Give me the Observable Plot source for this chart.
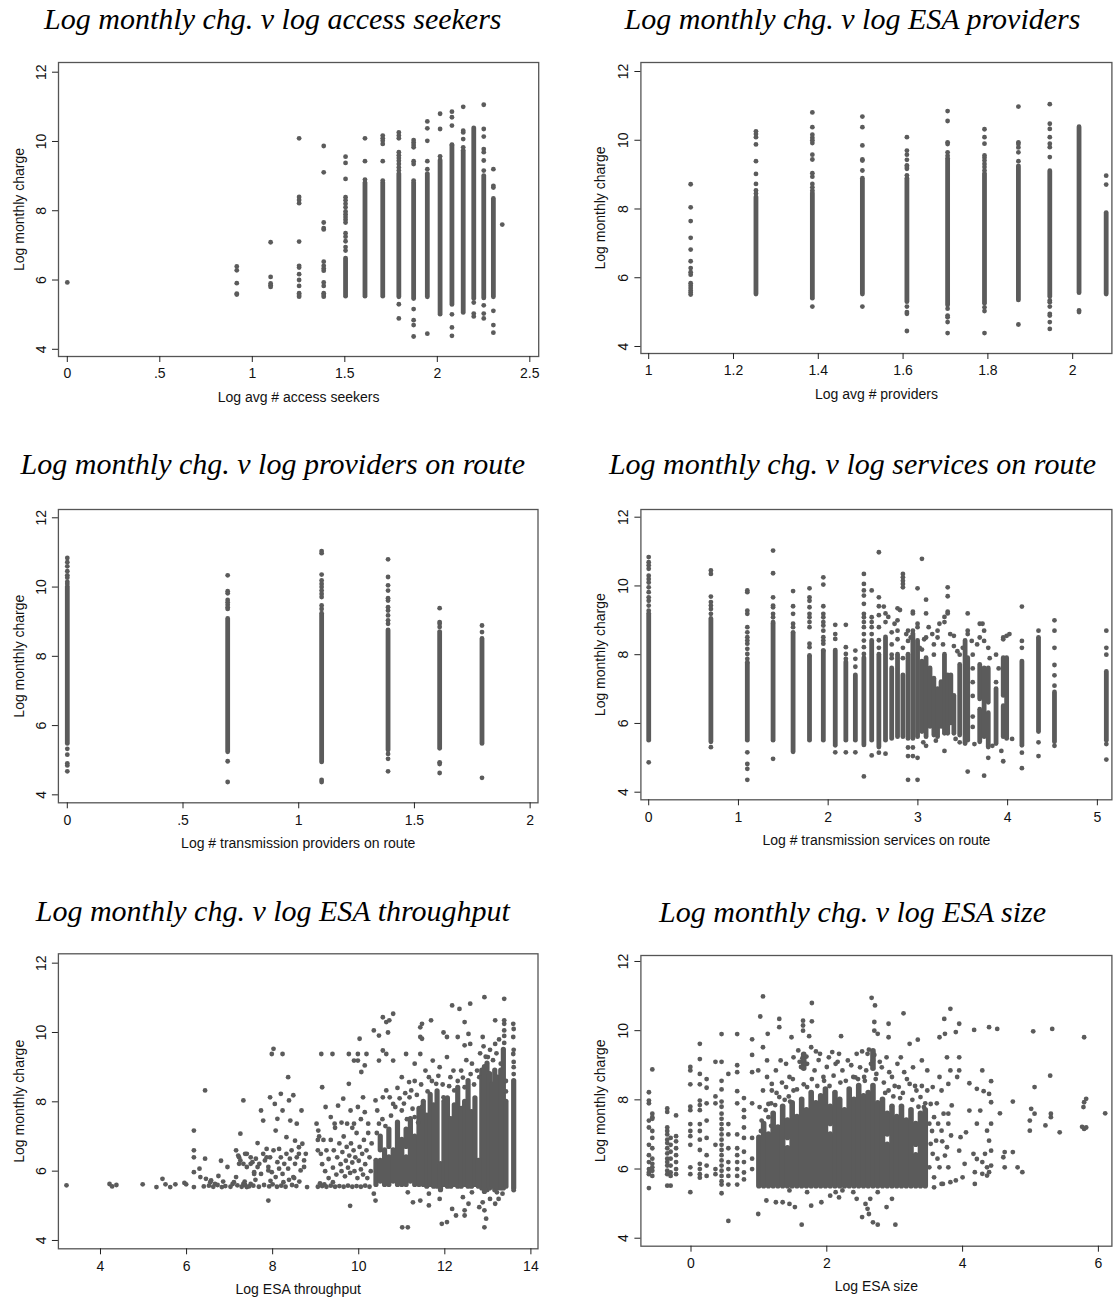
<!DOCTYPE html>
<html>
<head>
<meta charset="utf-8">
<script src="https://cdn.jsdelivr.net/npm/d3@7"></script>
<script src="https://cdn.jsdelivr.net/npm/@observablehq/plot@0.6"></script>
<style>
  html, body { margin: 0; padding: 0; background: #fff; }
  #page { position: relative; width: 1113px; height: 1299px; overflow: hidden; background: #fff; }
  #page svg { position: absolute; }
</style>
</head>
<body>
<div id="page"></div>
<script>
// ---------------------------------------------------------------------------
// Shared axis values
// ---------------------------------------------------------------------------
const yTicks = [4, 6, 8, 10, 12];
const yTickLabels = ["4", "6", "8", "10", "12"];
const yLabel = "Log monthly charge";

// ---------------------------------------------------------------------------
// 1. Log monthly charge vs log avg # access seekers
//    runs: [x, low, high] stretches where the points merge into a solid column
//    cols: [x, [y, ...]] individual points
// ---------------------------------------------------------------------------
const seekersTitle = "Log monthly chg. v log access seekers";
const seekersXLabel = "Log avg # access seekers";
const seekersXTicks = [0, 0.5, 1, 1.5, 2, 2.5];
const seekersXTickLabels = ["0", ".5", "1", "1.5", "2", "2.5"];
const seekersRuns = [
  [1.504, 5.52, 6.62], [1.609, 5.52, 8.80], [1.705, 5.52, 8.80], [1.792, 5.50, 9.06],
  [1.872, 5.45, 8.80], [1.946, 5.50, 9.06], [2.015, 5.00, 9.45], [2.079, 5.28, 9.88],
  [2.140, 5.05, 9.73], [2.197, 5.45, 10.38], [2.251, 5.47, 9.00], [2.303, 5.50, 8.34]
];
const seekersCols = [
  [0, [5.93]],
  [0.916, [6.39, 6.28, 5.91, 5.61, 5.58]],
  [1.099, [7.09, 6.09, 5.90, 5.85, 5.80]],
  [1.253, [10.09, 8.40, 8.31, 8.22, 7.11, 6.41, 6.36, 6.17, 6.00, 5.83, 5.62, 5.57, 5.52]],
  [1.386, [9.87, 9.11, 7.66, 7.50, 7.46, 6.53, 6.41, 6.33, 6.27, 5.93, 5.83, 5.62, 5.57, 5.52]],
  [1.504, [9.56, 9.38, 8.92, 8.39, 8.30, 8.20, 8.10, 7.98, 7.90, 7.82, 7.74, 7.66, 7.35, 7.25, 7.12, 6.95, 6.85]],
  [1.609, [10.09, 9.43, 8.90]],
  [1.705, [10.17, 10.09, 10.02, 9.93, 9.43, 8.87]],
  [1.792, [10.26, 10.17, 10.09, 9.69, 9.60, 9.52, 9.44, 9.35, 9.25, 9.16, 5.30, 4.89]],
  [1.872, [10.04, 9.97, 9.90, 9.83, 9.43, 9.35, 8.87, 5.16, 4.84, 4.70, 4.37]],
  [1.946, [10.58, 10.38, 10.02, 9.43, 9.20, 4.45]],
  [2.015, [10.80, 10.36, 9.57]],
  [2.079, [10.86, 10.70, 10.46, 9.91, 5.01, 4.63, 4.39]],
  [2.140, [11.00, 10.31, 10.26, 10.07, 9.83]],
  [2.197, [5.35, 5.03, 4.95]],
  [2.251, [11.06, 10.36, 10.14, 9.78, 9.69, 9.45, 9.16, 5.27, 5.03, 4.89]],
  [2.303, [9.20, 8.72, 8.67, 5.11, 4.70, 4.48]],
  [2.351, [7.60]]
];

// ---------------------------------------------------------------------------
// 2. Log monthly charge vs log avg # ESA providers
// ---------------------------------------------------------------------------
const providersTitle = "Log monthly chg. v log ESA providers";
const providersXLabel = "Log avg # providers";
const providersXTicks = [1, 1.2, 1.4, 1.6, 1.8, 2];
const providersXTickLabels = ["1", "1.2", "1.4", "1.6", "1.8", "2"];
const providersRuns = [
  [1.253, 5.51, 8.34], [1.386, 5.39, 8.46], [1.504, 5.51, 8.88], [1.609, 5.29, 8.88],
  [1.705, 5.19, 9.46], [1.792, 5.24, 9.02], [1.872, 5.34, 9.24], [1.946, 5.44, 9.10],
  [2.015, 5.55, 10.38], [2.079, 5.51, 7.88]
];
const providersCols = [
  [1.099, [8.72, 8.05, 7.65, 7.16, 6.82, 6.48, 6.28, 6.16, 6.09, 5.84, 5.77, 5.70, 5.63, 5.57, 5.51]],
  [1.253, [10.26, 10.18, 10.09, 9.88, 9.39, 9.02, 8.73, 8.54, 8.45]],
  [1.386, [10.81, 10.38, 10.16, 10.07, 10.00, 9.92, 9.58, 9.44, 9.04, 8.94, 8.73, 8.63, 8.54, 5.16]],
  [1.504, [10.69, 10.38, 9.85, 9.44, 9.41, 9.12, 5.16]],
  [1.609, [10.09, 9.70, 9.58, 9.43, 9.27, 9.22, 9.17, 8.98, 5.16, 5.00, 4.95, 4.45]],
  [1.705, [10.85, 10.56, 9.94, 9.89, 9.65, 9.55, 5.10, 4.90, 4.85, 4.71, 4.39]],
  [1.792, [10.32, 10.09, 9.90, 9.56, 9.49, 9.41, 9.31, 9.22, 9.12, 5.14, 5.03, 4.39]],
  [1.872, [10.98, 9.94, 9.89, 9.79, 9.65, 9.39, 4.64]],
  [1.946, [11.05, 10.48, 10.33, 10.09, 9.90, 9.80, 9.51, 5.34, 5.29, 5.16, 4.95, 4.90, 4.71, 4.51]],
  [2.015, [5.05, 5.00]],
  [2.079, [8.97, 8.71]]
];

// ---------------------------------------------------------------------------
// 3. Log monthly charge vs log # transmission providers on route
// ---------------------------------------------------------------------------
const routeProvTitle = "Log monthly chg. v log providers on route";
const routeProvXLabel = "Log # transmission providers on route";
const routeProvXTicks = [0, 0.5, 1, 1.5, 2];
const routeProvXTickLabels = ["0", ".5", "1", "1.5", "2"];
const routeProvRuns = [
  [0, 5.47, 10.00], [0.693, 5.23, 9.08], [1.099, 4.94, 9.23],
  [1.386, 5.28, 8.75], [1.609, 5.33, 8.70], [1.792, 5.47, 8.50]
];
const routeProvCols = [
  [0, [10.84, 10.72, 10.60, 10.46, 10.34, 10.27, 10.15, 10.09, 5.33, 5.16, 4.91, 4.85, 4.68]],
  [0.693, [10.34, 9.88, 9.82, 9.63, 9.56, 9.49, 9.42, 9.37, 4.97, 4.37]],
  [1.099, [11.04, 10.98, 10.36, 10.19, 10.09, 10.00, 9.90, 9.80, 9.71, 9.47, 9.37, 4.43, 4.37]],
  [1.386, [10.80, 10.29, 10.05, 9.90, 9.68, 9.61, 9.42, 9.32, 9.18, 9.04, 8.94, 5.18, 5.04, 4.68]],
  [1.609, [9.39, 8.99, 8.94, 8.85, 4.94, 4.89, 4.63]],
  [1.792, [8.89, 8.70, 4.49]]
];

// ---------------------------------------------------------------------------
// 4. Log monthly charge vs log # transmission services on route
// ---------------------------------------------------------------------------
const servicesTitle = "Log monthly chg. v log services on route";
const servicesXLabel = "Log # transmission services on route";
const servicesXTicks = [0, 1, 2, 3, 4, 5];
const servicesXTickLabels = ["0", "1", "2", "3", "4", "5"];
const servicesRuns = [
  [0, 5.50, 9.19], [0.693, 5.45, 9.04], [1.099, 5.50, 7.73], [1.386, 5.50, 8.90],
  [1.609, 5.16, 8.60], [1.792, 5.50, 7.93], [1.946, 5.50, 8.10], [2.079, 5.35, 8.12],
  [2.197, 5.50, 7.78], [2.303, 5.50, 7.40], [2.398, 5.36, 7.90], [2.485, 5.50, 8.40],
  [2.565, 5.30, 8.00], [2.639, 5.50, 8.50], [2.708, 5.55, 7.60], [2.773, 5.60, 8.00],
  [2.833, 5.60, 7.40], [2.890, 5.55, 8.00], [2.944, 5.55, 8.60], [2.996, 5.60, 8.40],
  [3.045, 5.75, 7.80], [3.091, 5.60, 7.90], [3.135, 5.90, 7.60], [3.178, 5.65, 7.30],
  [3.219, 5.60, 7.00], [3.258, 5.90, 7.20], [3.296, 5.70, 8.00], [3.332, 5.70, 7.40],
  [3.367, 6.00, 7.40], [3.401, 5.70, 6.80], [3.466, 5.65, 7.70], [3.526, 5.40, 8.40],
  [3.555, 5.50, 7.90], [3.689, 5.45, 6.40], [3.689, 6.70, 7.70], [3.738, 5.60, 7.60],
  [3.784, 5.30, 6.30], [3.784, 6.60, 7.60], [3.871, 5.40, 7.00], [3.951, 5.60, 6.50],
  [3.951, 6.80, 7.90], [3.989, 5.55, 7.90], [4.159, 5.35, 7.80], [4.344, 5.75, 8.45],
  [4.522, 5.45, 6.90], [5.100, 5.50, 7.50]
];
const servicesCols = [
  [0, [10.84, 10.69, 10.60, 10.50, 10.30, 10.20, 10.10, 9.96, 9.82, 9.67, 9.57, 9.43, 9.28, 4.87]],
  [0.693, [10.45, 10.35, 9.69, 9.53, 9.43, 9.33, 9.19, 5.31]],
  [1.099, [9.87, 9.82, 9.28, 9.19, 8.80, 8.65, 8.51, 8.41, 8.32, 8.17, 8.02, 7.88, 7.78, 5.16, 4.82, 4.68, 4.36]],
  [1.386, [11.03, 10.37, 9.67, 9.43, 9.38, 9.19, 9.09, 8.95, 4.97]],
  [1.609, [9.85, 9.41, 9.19, 8.90, 8.80, 8.65]],
  [1.792, [9.93, 9.67, 9.57, 9.38, 9.19, 9.09, 8.95, 8.80, 8.32, 8.22, 7.98]],
  [1.946, [10.25, 10.04, 9.41, 9.19, 9.09, 8.95, 8.85, 8.70, 8.51, 8.41, 8.32, 8.12]],
  [2.079, [8.87, 8.60, 8.46, 5.16]],
  [2.197, [8.87, 8.22, 8.02, 7.88, 5.16]],
  [2.303, [8.12, 7.88, 7.65, 5.16]],
  [2.398, [10.35, 10.06, 9.87, 9.72, 9.48, 9.19, 9.09, 8.95, 8.80, 8.60, 8.41, 8.22, 8.02, 4.46]],
  [2.485, [9.87, 9.09, 8.95, 8.80, 8.60, 5.07]],
  [2.565, [10.98, 9.67, 9.41, 9.15, 8.80, 8.42, 8.20, 5.15]],
  [2.639, [9.20, 8.95, 5.12]],
  [2.708, [8.65, 8.30, 8.00, 7.90]],
  [2.773, [9.35, 9.00, 8.70, 8.45]],
  [2.833, [10.35, 10.25, 10.15, 10.06, 9.96, 8.20, 7.90]],
  [2.890, [8.70, 8.40, 5.30, 5.05, 4.36]],
  [2.944, [9.25, 9.20, 8.70, 5.30, 5.05]],
  [2.996, [9.93, 8.90, 8.80, 5.00, 4.36]],
  [3.045, [10.79, 8.15]],
  [3.091, [9.60, 9.20, 8.50, 5.35]],
  [3.178, [8.30, 8.00]],
  [3.219, [8.70, 8.50]],
  [3.296, [9.10, 8.95, 5.20]],
  [3.332, [9.96, 9.70, 9.25, 9.20]],
  [3.401, [8.55, 8.25]],
  [3.466, [8.00, 5.45]],
  [3.555, [9.20, 8.70, 8.60, 4.60]],
  [3.611, [8.00, 7.60, 7.20, 6.80, 6.20, 5.90]],
  [3.689, [8.90, 8.50]],
  [3.738, [8.70, 8.40, 4.48]],
  [3.784, [8.20, 5.00]],
  [3.871, [8.00, 7.20]],
  [3.951, [8.50, 8.45, 4.90]],
  [3.989, [8.55]],
  [4.159, [9.40, 8.40, 8.20, 5.15, 4.70]],
  [4.344, [8.70, 8.50, 5.45, 5.05]],
  [4.522, [9.00, 8.70, 8.20, 7.70, 7.40, 7.10, 5.35]],
  [5.100, [8.70, 8.20, 8.00, 5.40, 4.95]]
];
const servicesDots = [
  [2.62, 9.40], [2.67, 9.10], [2.74, 8.90], [2.80, 9.30], [2.87, 8.60], [2.92, 8.50],
  [3.02, 8.20], [3.07, 8.45], [3.12, 8.80], [3.16, 8.60], [3.24, 8.90], [3.28, 8.30],
  [3.36, 8.60], [3.44, 8.10], [3.50, 8.20], [3.60, 8.40], [3.66, 8.30], [3.72, 8.90],
  [3.80, 7.90], [3.90, 7.60], [4.02, 8.60], [3.06, 5.45], [3.20, 5.50], [3.42, 5.55],
  [3.63, 5.40], [3.83, 5.35], [3.93, 5.20], [4.05, 5.55]
];

// ---------------------------------------------------------------------------
// 5. Log monthly charge vs log ESA throughput
// ---------------------------------------------------------------------------
const throughputTitle = "Log monthly chg. v log ESA throughput";
const throughputXLabel = "Log ESA throughput";
const throughputXTicks = [4, 6, 8, 10, 12, 14];
const throughputXTickLabels = ["4", "6", "8", "10", "12", "14"];
const throughputRuns = [
  [10.40, 5.60, 6.30], [10.50, 5.70, 6.30], [10.50, 6.60, 7.00], [10.60, 5.60, 6.60],
  [10.70, 5.60, 6.40], [10.70, 6.70, 7.20], [10.80, 5.70, 6.60], [10.90, 5.60, 7.40],
  [11.00, 5.60, 6.90], [11.10, 5.60, 6.40], [11.10, 6.70, 7.20], [11.20, 5.70, 7.50],
  [11.30, 5.60, 7.00], [11.40, 5.60, 7.80], [11.50, 5.60, 8.00], [11.58, 5.55, 7.60],
  [11.66, 5.60, 8.20], [11.74, 5.55, 7.90], [11.82, 5.55, 8.30], [11.90, 5.45, 6.20],
  [11.98, 5.60, 8.00], [12.06, 5.55, 8.10], [12.14, 5.55, 7.50], [12.22, 5.60, 7.90],
  [12.30, 5.55, 8.40], [12.38, 5.55, 7.80], [12.46, 5.60, 8.00], [12.54, 5.55, 8.60],
  [12.62, 5.55, 7.70], [12.70, 5.60, 8.10], [12.78, 5.55, 6.30], [12.86, 5.50, 8.90],
  [12.92, 5.40, 9.00], [12.98, 5.45, 9.10], [13.04, 5.50, 8.80], [13.10, 5.55, 8.50],
  [13.16, 5.45, 8.90], [13.22, 5.50, 8.70], [13.30, 5.50, 8.90], [13.36, 5.50, 9.50],
  [13.42, 5.55, 8.00], [13.60, 5.50, 8.60]
];
const throughputDots = [
  [3.21, 5.59], [4.21, 5.63], [4.27, 5.56], [4.37, 5.60], [4.98, 5.62], [5.30, 5.54],
  [5.44, 5.78], [5.51, 5.62], [5.62, 5.54], [5.74, 5.62], [5.95, 5.66], [5.99, 5.62],
  [6.17, 7.17], [6.17, 6.60], [6.17, 6.40], [6.17, 5.97], [6.17, 5.54], [6.43, 8.33],
  [6.43, 6.36], [6.30, 6.07], [6.32, 5.83], [6.45, 5.78], [6.57, 5.73], [6.66, 5.63],
  [6.74, 5.86], [6.82, 5.54], [6.80, 6.30], [6.95, 6.12], [7.07, 5.63], [7.15, 5.83],
  [7.25, 7.08], [7.32, 8.04], [7.40, 6.50], [7.22, 6.40], [7.22, 6.21], [7.32, 5.63],
  [7.40, 5.54], [7.49, 5.63], [7.49, 6.21], [7.57, 5.92], [7.65, 6.81], [7.73, 7.75],
  [7.78, 7.46], [7.86, 6.40], [7.90, 6.02], [7.90, 5.15], [7.94, 8.13], [7.98, 9.38],
  [8.02, 9.53], [8.23, 9.38], [8.05, 7.94], [8.07, 7.17], [8.11, 7.51], [8.15, 6.64],
  [8.19, 8.23], [8.23, 7.75], [8.32, 6.98], [8.36, 8.71], [8.38, 8.04], [8.41, 7.46],
  [8.48, 8.19], [8.52, 6.88], [8.56, 7.37], [8.61, 6.50], [8.67, 7.75], [8.73, 6.12],
  [8.80, 5.54],
  [7.15, 6.60], [7.20, 6.45], [7.25, 6.31], [7.32, 6.21], [7.36, 6.50], [7.40, 6.12],
  [7.49, 6.40], [7.53, 6.26], [7.57, 5.97], [7.61, 6.36], [7.65, 6.12], [7.69, 6.21],
  [7.73, 5.92], [7.78, 6.50], [7.82, 6.31], [7.86, 6.64], [7.90, 6.12], [7.94, 6.40],
  [7.98, 5.97], [8.02, 6.60], [8.07, 5.83], [8.11, 6.26], [8.15, 6.07], [8.19, 6.40],
  [8.23, 5.92], [8.27, 6.21], [8.32, 6.50], [8.36, 6.07], [8.40, 6.36], [8.44, 6.60],
  [8.48, 5.83], [8.52, 6.21], [8.56, 6.40], [8.61, 6.69], [8.65, 6.02], [8.69, 6.79],
  [8.73, 6.31], [8.77, 6.50],
  [6.40, 5.56], [6.52, 5.58], [6.62, 5.55], [6.72, 5.60], [6.90, 5.57], [7.02, 5.55],
  [7.18, 5.59], [7.28, 5.55], [7.36, 5.60], [7.45, 5.56], [7.55, 5.58], [7.68, 5.55],
  [7.80, 5.60], [7.92, 5.56], [8.00, 5.62], [8.10, 5.55], [8.20, 5.58], [8.30, 5.55],
  [8.45, 5.60], [8.55, 5.57], [8.62, 5.70], [8.50, 5.80], [8.38, 5.75], [8.25, 5.68],
  [7.95, 5.72], [7.60, 5.75], [7.35, 5.70], [7.10, 5.68], [6.85, 5.70], [6.55, 5.68],
  [9.13, 9.38], [9.39, 9.38], [9.77, 9.38], [9.89, 9.19], [9.98, 9.38], [9.98, 9.19],
  [10.18, 9.38], [10.02, 9.82], [10.06, 8.86], [10.14, 9.05], [9.15, 8.42], [9.77, 8.52],
  [9.64, 8.09], [9.52, 7.89], [9.23, 7.85], [9.35, 7.56], [9.44, 7.37], [9.02, 7.37],
  [9.06, 7.17], [10.10, 8.13], [9.98, 7.85], [9.89, 7.37], [9.73, 7.37], [9.81, 7.75],
  [10.14, 7.70], [10.22, 7.37],
  [9.05, 6.60], [9.05, 6.90], [9.08, 7.00], [9.12, 6.50], [9.15, 6.20], [9.18, 6.90],
  [9.22, 6.00], [9.25, 6.60], [9.30, 5.80], [9.30, 6.35], [9.35, 6.90], [9.40, 6.10],
  [9.42, 6.60], [9.48, 5.90], [9.50, 6.40], [9.55, 6.80], [9.58, 6.20], [9.60, 6.00],
  [9.62, 6.55], [9.65, 7.00], [9.68, 5.85], [9.70, 6.30], [9.72, 6.70], [9.75, 6.10],
  [9.78, 6.45], [9.80, 5.95], [9.82, 6.80], [9.85, 6.25], [9.88, 6.60], [9.90, 6.00],
  [9.92, 6.40], [9.95, 7.10], [9.97, 5.80], [10.00, 6.30], [10.02, 6.70], [10.05, 6.05],
  [10.08, 6.50], [10.10, 5.90], [10.12, 6.90], [10.15, 6.20], [10.18, 6.60], [10.20, 5.80],
  [10.22, 7.10], [10.25, 6.40], [10.28, 6.00], [10.30, 6.80], [9.45, 7.25], [9.60, 7.40],
  [9.85, 7.25], [10.05, 7.50], [9.80, 5.00],
  [9.05, 5.55], [9.15, 5.57], [9.25, 5.55], [9.35, 5.58], [9.45, 5.55], [9.55, 5.57],
  [9.65, 5.55], [9.75, 5.58], [9.85, 5.55], [9.95, 5.57], [10.05, 5.55], [10.15, 5.58],
  [10.25, 5.55], [9.10, 5.65], [9.20, 5.62], [9.40, 5.68],
  [10.35, 10.06], [10.47, 9.91], [10.56, 10.44], [10.64, 10.30], [10.71, 10.35], [10.80, 10.54],
  [10.68, 10.00], [10.47, 9.19], [10.56, 9.48], [10.64, 9.38], [10.80, 9.19], [11.10, 9.38],
  [11.43, 10.15], [11.47, 10.25], [11.43, 9.87], [11.47, 9.82], [11.68, 10.35], [11.43, 9.38],
  [11.97, 10.00], [12.17, 10.78], [12.34, 10.68], [12.46, 10.30], [12.59, 10.83], [12.92, 11.02],
  [13.38, 10.97], [12.05, 9.87], [12.30, 9.87], [12.55, 9.96], [12.46, 9.63], [12.59, 9.67],
  [12.88, 9.87], [13.17, 10.35], [13.17, 9.67], [13.38, 10.25], [13.38, 10.06], [13.59, 10.25],
  [13.59, 9.87], [13.59, 9.38], [12.05, 9.29], [11.72, 9.19], [11.30, 9.10], [11.88, 9.00],
  [11.00, 8.71], [11.17, 8.57], [11.22, 8.33], [11.18, 8.13], [10.72, 8.13], [10.56, 8.13],
  [10.39, 8.04], [10.43, 7.75], [10.47, 7.37], [10.64, 8.33], [10.80, 7.94], [11.00, 7.75],
  [11.63, 8.71], [11.80, 8.52], [12.13, 8.71], [12.38, 8.90], [12.63, 9.10], [12.80, 8.71],
  [13.00, 9.29], [12.22, 8.33], [12.46, 8.42], [11.97, 8.13], [11.47, 7.85], [11.30, 7.56],
  [10.42, 7.10], [10.55, 7.50], [10.62, 7.30], [10.75, 7.60], [10.85, 7.85], [10.95, 8.10],
  [11.05, 7.95], [11.12, 7.50], [11.25, 7.80], [11.35, 8.20], [11.38, 7.40], [10.90, 8.40],
  [11.08, 8.25], [11.30, 8.60], [11.45, 8.50], [11.55, 8.90], [11.60, 8.30], [11.70, 8.60],
  [11.85, 8.75], [11.95, 8.50], [12.10, 8.45], [12.20, 8.90], [12.30, 8.60], [12.42, 8.70],
  [12.50, 9.20], [12.60, 8.80], [12.68, 8.50], [12.75, 8.90], [12.82, 9.40], [12.90, 9.60],
  [12.95, 9.30], [13.05, 9.50], [13.12, 9.20], [13.20, 9.40], [13.26, 9.80], [13.30, 9.10],
  [10.35, 5.35], [10.39, 5.15], [11.01, 4.38], [11.14, 4.38], [11.14, 5.39], [11.26, 5.10],
  [11.43, 5.15], [11.63, 5.01], [11.63, 5.35], [11.88, 5.20], [11.93, 4.48], [12.05, 4.53],
  [12.17, 4.91], [12.26, 4.72], [12.46, 4.72], [12.46, 4.87], [12.42, 5.25], [12.55, 5.06],
  [12.63, 5.39], [12.80, 4.96], [12.88, 5.10], [12.92, 4.87], [12.92, 4.38], [12.96, 4.63],
  [13.05, 5.20], [13.17, 5.06], [13.25, 5.20], [13.34, 5.35], [13.21, 5.39],
  [13.60, 8.80], [13.60, 9.00], [13.60, 9.15], [13.60, 9.50], [13.60, 10.10], [13.60, 5.45],
  [13.38, 9.70], [13.38, 9.90], [13.38, 10.35], [13.42, 8.30], [13.42, 8.60]
];

// ---------------------------------------------------------------------------
// 6. Log monthly charge vs log ESA size
// ---------------------------------------------------------------------------
const sizeTitle = "Log monthly chg. v log ESA size";
const sizeXLabel = "Log ESA size";
const sizeXTicks = [0, 2, 4, 6];
const sizeXTickLabels = ["0", "2", "4", "6"];
const sizeRuns = [
  [1.00, 5.50, 6.90], [1.07, 5.50, 7.30], [1.14, 5.50, 7.00], [1.21, 5.50, 7.60],
  [1.28, 5.50, 7.20], [1.35, 5.50, 7.80], [1.42, 5.50, 6.60], [1.42, 6.90, 7.40],
  [1.49, 5.50, 7.90], [1.56, 5.50, 7.50], [1.63, 5.50, 8.00], [1.66, 8.90, 9.30],
  [1.70, 5.50, 7.70], [1.77, 5.50, 8.20], [1.84, 5.50, 7.90], [1.91, 5.50, 8.10],
  [1.98, 5.50, 8.30], [2.05, 5.50, 7.00], [2.05, 7.30, 7.80], [2.12, 5.50, 8.20],
  [2.19, 5.50, 8.00], [2.26, 5.50, 7.70], [2.33, 5.50, 8.30], [2.40, 5.50, 8.00],
  [2.47, 5.50, 8.40], [2.54, 5.50, 8.10], [2.61, 5.50, 8.20], [2.68, 5.50, 8.40],
  [2.68, 8.90, 9.40], [2.75, 5.50, 7.90], [2.82, 5.50, 8.00], [2.89, 5.50, 6.70],
  [2.89, 7.00, 7.60], [2.96, 5.50, 7.80], [3.03, 5.50, 7.50], [3.10, 5.50, 7.80],
  [3.17, 5.50, 7.40], [3.24, 5.50, 7.70], [3.31, 5.50, 6.40], [3.31, 6.70, 7.30],
  [3.38, 5.50, 7.60], [3.45, 5.50, 7.70]
];
const sizeCols = [
  [-0.62, [8.22, 7.98, 7.90, 7.40, 7.20, 6.70, 6.40, 6.20, 6.00, 5.90, 5.85, 5.45]],
  [-0.57, [8.88, 7.60, 7.50, 7.45, 7.10, 6.90, 6.60, 6.30, 6.15, 6.05, 5.95, 5.80]],
  [-0.35, [7.75, 7.65, 7.20, 7.10, 7.00, 6.85, 6.75, 6.60, 6.45, 6.30, 6.20, 6.10, 5.95, 5.85, 5.52]],
  [-0.30, [6.90, 6.70, 6.50, 6.30, 6.10, 5.90, 5.80, 5.52]],
  [-0.22, [7.55, 6.95, 6.80, 6.60, 6.40, 6.20, 6.00, 5.85]],
  [-0.01, [8.95, 8.85, 8.45, 7.80, 7.70, 7.30, 7.10, 6.95, 6.70, 6.05, 5.85, 5.33]],
  [0.13, [9.62, 9.18, 8.75, 8.45, 7.98, 7.85, 7.70, 7.30, 7.10, 6.85, 6.55, 6.15, 6.00, 5.85, 5.75]],
  [0.23, [8.60, 8.35, 7.90, 7.40, 6.90, 6.40, 6.10, 5.80]],
  [0.36, [9.10, 8.10, 7.90, 6.70, 6.00, 5.85]],
  [0.45, [9.90, 9.10, 8.55, 8.30, 7.95, 7.80, 7.60, 7.45, 7.30, 7.15, 7.00, 6.85, 6.70, 6.55, 6.40, 6.25, 6.10, 5.95, 5.80, 5.65, 5.55, 5.30]],
  [0.55, [8.75, 7.30, 7.00, 6.60, 6.20, 6.00, 5.80, 5.55, 4.50]],
  [0.68, [9.90, 9.00, 8.80, 8.25, 7.90, 7.00, 6.60, 6.40, 6.20, 6.00, 5.80, 5.55]],
  [0.78, [8.05, 7.70, 7.50, 7.20, 6.90, 6.50, 6.20, 5.90, 5.70]],
  [0.90, [9.75, 9.30, 8.80, 7.90, 6.90, 6.30, 6.00]]
];
const sizeDots = [
  [1.06, 10.99], [1.02, 10.41], [1.30, 10.34], [1.30, 10.10], [1.13, 9.91], [1.48, 9.81],
  [1.65, 10.29], [1.65, 10.15], [1.65, 10.00], [1.78, 10.80], [1.78, 10.27], [1.74, 9.84],
  [2.21, 9.84], [2.66, 10.95], [2.71, 10.73], [2.70, 10.25], [2.70, 10.00], [2.75, 9.91],
  [2.91, 10.20], [2.91, 9.81], [3.13, 10.50], [3.34, 9.74], [3.22, 9.62], [3.82, 10.63],
  [3.73, 10.34], [3.74, 9.91], [3.95, 10.20], [3.90, 9.96], [3.66, 9.81], [4.17, 10.02],
  [4.39, 10.10], [4.51, 10.05], [5.04, 9.98], [5.32, 10.05], [5.79, 9.81],
  [5.06, 8.37], [5.29, 8.70], [4.74, 7.95], [5.01, 7.74], [5.06, 7.60], [4.99, 7.40],
  [4.99, 7.11], [5.22, 7.26], [5.30, 7.50], [5.30, 7.60], [5.43, 7.06], [5.78, 7.79],
  [5.79, 7.93], [5.82, 8.03], [5.79, 7.16], [5.82, 7.20], [5.76, 7.22], [6.10, 7.61],
  [4.62, 6.49], [4.60, 6.34], [4.62, 6.05], [4.74, 6.49], [4.81, 6.05], [4.88, 5.91],
  [4.55, 7.61],
  [4.10, 8.48], [4.21, 8.32], [4.29, 8.85], [4.31, 8.25], [4.39, 8.17], [4.42, 8.54],
  [4.42, 7.93], [4.10, 7.69], [4.26, 7.69], [4.21, 7.31], [4.36, 7.11], [4.42, 7.31],
  [4.39, 6.82], [4.05, 7.06], [3.97, 6.92], [4.16, 6.44], [4.21, 6.29], [4.29, 6.20],
  [4.33, 6.44], [4.36, 6.05], [4.39, 5.91], [4.42, 6.53], [4.18, 5.91], [4.18, 5.57],
  [4.29, 5.86], [4.36, 5.81], [4.42, 6.10], [4.03, 6.15], [3.95, 6.53], [4.00, 5.76],
  [3.90, 5.67], [3.82, 5.62], [3.79, 6.05], [3.71, 5.57], [3.74, 6.39], [3.77, 6.63],
  [3.69, 7.11], [3.79, 7.31], [3.83, 6.97], [3.79, 7.60], [3.84, 7.84], [3.69, 8.27],
  [3.79, 8.46], [3.95, 8.85], [3.92, 8.66], [3.95, 9.23], [3.77, 9.23], [3.82, 8.85],
  [3.66, 8.66], [3.56, 8.37], [3.48, 8.27], [3.40, 9.14], [3.48, 8.85], [3.53, 7.88],
  [3.58, 7.50], [3.64, 7.31], [3.61, 6.82], [3.56, 6.44], [3.66, 6.05], [3.58, 5.76],
  [3.51, 6.05], [3.53, 6.73], [3.51, 7.31], [3.69, 5.57], [3.58, 5.47], [3.62, 7.90],
  [3.55, 7.10], [3.63, 6.30], [3.70, 6.80], [3.72, 7.60],
  [1.06, 9.52], [0.99, 8.85], [1.12, 9.14], [1.12, 8.66], [1.19, 8.46], [1.19, 8.27],
  [1.25, 8.85], [1.32, 9.14], [1.40, 9.04], [1.45, 8.66], [1.51, 9.23], [1.58, 9.43],
  [1.66, 9.14], [1.71, 9.04], [1.77, 9.52], [1.82, 8.85], [1.90, 9.33], [1.95, 8.66],
  [2.03, 9.23], [2.08, 9.38], [2.13, 9.04], [2.18, 9.33], [2.23, 8.85], [2.31, 9.14],
  [2.39, 8.66], [2.44, 9.33], [2.49, 8.94], [2.55, 8.66], [2.60, 9.33], [2.65, 9.04],
  [2.68, 9.14], [2.73, 8.75], [2.81, 8.94], [2.88, 9.23], [2.96, 8.66], [3.04, 9.04],
  [3.09, 9.23], [3.14, 8.80], [3.22, 8.46], [3.27, 8.94], [3.32, 8.27], [3.06, 8.37],
  [2.91, 8.27], [1.71, 8.37], [1.51, 8.27], [1.40, 8.37], [1.30, 8.08], [1.14, 7.88],
  [1.06, 8.27], [1.01, 7.79], [1.04, 7.40], [1.14, 7.50], [3.38, 8.08], [3.43, 7.79],
  [1.60, 9.10], [1.64, 9.20], [1.68, 9.05], [1.62, 8.95], [1.70, 9.25], [1.84, 9.40],
  [1.88, 9.15], [2.00, 8.95], [2.10, 8.70], [2.16, 9.10], [2.28, 8.55], [2.36, 9.00],
  [2.46, 8.60], [2.52, 9.40], [2.58, 8.85], [2.62, 9.45], [2.70, 9.30], [2.72, 8.60],
  [2.78, 9.10], [2.84, 8.50], [2.92, 8.80], [3.00, 8.40], [3.12, 8.20], [3.18, 8.60],
  [3.26, 8.00], [3.30, 8.40], [1.26, 8.20], [1.34, 8.50], [1.44, 8.10], [1.50, 8.60],
  [1.56, 8.30], [1.66, 8.45], [1.78, 8.60], [1.86, 8.40], [1.96, 8.55], [2.04, 8.40],
  [2.20, 8.50], [2.42, 8.65], [2.56, 8.55], [2.86, 8.20], [2.98, 8.10], [3.08, 8.05],
  [1.10, 7.70], [1.18, 7.90], [1.24, 7.85], [1.38, 8.00], [1.46, 7.95], [1.18, 7.25],
  [1.03, 7.10], [3.45, 7.90], [3.40, 8.40], [3.35, 7.80],
  [0.99, 4.70], [1.11, 5.09], [1.25, 5.04], [1.35, 5.04], [1.45, 4.99], [1.53, 4.90],
  [1.63, 4.39], [1.77, 4.94], [1.92, 5.04], [2.05, 5.23], [2.18, 5.18], [2.23, 5.38],
  [2.39, 5.33], [2.44, 5.14], [2.52, 4.61], [2.57, 4.99], [2.60, 4.85], [2.62, 4.70],
  [2.64, 5.14], [2.68, 4.46], [2.75, 4.39], [2.75, 5.33], [2.88, 4.90], [2.96, 5.14],
  [3.01, 4.39], [1.45, 5.38], [1.71, 5.33], [2.13, 5.33]
];

// ---------------------------------------------------------------------------
// Drawing
// ---------------------------------------------------------------------------
const DOT = "#5b5b5b";
const SANS = "'Liberation Sans', Arial, Helvetica, sans-serif";
const SERIF = "'Liberation Serif', 'Times New Roman', serif";
const page = document.getElementById("page");

const expandCols = (cols) => cols.flatMap(([x, ys]) => ys.map((y) => [x, y]));

function panel(cfg) {
  const [fl, ft, fr, fb] = cfg.frame; // frame edges in page pixels
  const svg = Plot.plot({
    width: cfg.width,
    height: cfg.height,
    marginLeft: fl - cfg.left,
    marginTop: ft - cfg.top,
    marginRight: cfg.left + cfg.width - fr,
    marginBottom: cfg.top + cfg.height - fb,
    x: {domain: cfg.xDomain},
    y: {domain: cfg.yDomain},
    style: {fontFamily: SANS, fontSize: "14px", color: "#222", background: "transparent", overflow: "visible"},
    marks: [
      Plot.ruleX(cfg.runs, {x: (d) => d[0], y1: (d) => d[1], y2: (d) => d[2], stroke: DOT, strokeWidth: cfg.runWidth, strokeLinecap: "round"}),
      Plot.dot(cfg.dots, {x: (d) => d[0], y: (d) => d[1], r: 2.4, fill: DOT, stroke: "none"}),
      Plot.frame({stroke: "#555", strokeWidth: 1.3}),
      Plot.axisX({ticks: cfg.xTicks, tickFormat: (d, i) => cfg.xTickLabels[i], tickSize: 6, tickPadding: 6, label: null, fill: "#111"}),
      Plot.axisY({ticks: yTicks, tickFormat: (d, i) => yTickLabels[i], tickRotate: -90, tickSize: 6, tickPadding: cfg.yTickPad, label: null, fill: "#111"}),
      Plot.text([cfg.xLabel], {text: (d) => d, frameAnchor: "bottom", dy: 45, lineAnchor: "bottom", fill: "#111"}),
      Plot.text([yLabel], {text: (d) => d, frameAnchor: "left", dx: cfg.yLabelDx, rotate: -90, textAnchor: "middle", lineAnchor: "bottom", fill: "#111"}),
      Plot.text([cfg.title], {text: (d) => d, frameAnchor: "top", dx: cfg.titleX - (fl + fr) / 2, dy: cfg.titleBase - ft,
        textAnchor: "middle", lineAnchor: "bottom", fontFamily: SERIF, fontStyle: "italic", fontSize: 30, fill: "#000"})
    ]
  });
  svg.style.left = cfg.left + "px";
  svg.style.top = cfg.top + "px";
  page.appendChild(svg);
}

const leftCol = {left: 0, width: 556, titleX: 272.3, yLabelDx: -34.4, yTickPad: 6.3};
const rightCol = {left: 560, width: 560, titleX: 852, yLabelDx: -36.4, yTickPad: 7.4};

panel({...leftCol, top: 0, height: 420, frame: [58, 62, 538.2, 356],
  xDomain: [-0.0476, 2.548], yDomain: [3.792, 12.28], titleBase: 28, runWidth: 4.8,
  title: seekersTitle, xLabel: seekersXLabel, xTicks: seekersXTicks, xTickLabels: seekersXTickLabels,
  runs: seekersRuns, dots: expandCols(seekersCols)});

panel({...rightCol, top: 0, height: 420, frame: [640.4, 62, 1111.4, 353],
  xDomain: [0.9816, 2.0925], yDomain: [3.796, 12.262], titleBase: 28, runWidth: 4.8,
  title: providersTitle, xLabel: providersXLabel, xTicks: providersXTicks, xTickLabels: providersXTickLabels,
  runs: providersRuns, dots: expandCols(providersCols)});

panel({...leftCol, top: 440, height: 420, frame: [57.9, 509, 537.5, 802.3],
  xDomain: [-0.0385, 2.034], yDomain: [3.77, 12.24], titleBase: 473, runWidth: 4.8,
  title: routeProvTitle, xLabel: routeProvXLabel, xTicks: routeProvXTicks, xTickLabels: routeProvXTickLabels,
  runs: routeProvRuns, dots: expandCols(routeProvCols)});

panel({...rightCol, top: 440, height: 420, frame: [640.4, 509, 1111.4, 799.3],
  xDomain: [-0.087, 5.162], yDomain: [3.779, 12.224], titleBase: 473, runWidth: 4.8,
  title: servicesTitle, xLabel: servicesXLabel, xTicks: servicesXTicks, xTickLabels: servicesXTickLabels,
  runs: servicesRuns, dots: expandCols(servicesCols).concat(servicesDots)});

panel({...leftCol, top: 880, height: 419, frame: [57.9, 953.3, 537.5, 1248.3],
  xDomain: [3.022, 14.165], yDomain: [3.76, 12.27], titleBase: 920, runWidth: 5.2,
  title: throughputTitle, xLabel: throughputXLabel, xTicks: throughputXTicks, xTickLabels: throughputXTickLabels,
  runs: throughputRuns, dots: throughputDots});

panel({...rightCol, top: 880, height: 419, frame: [640.4, 955, 1111.4, 1245.7],
  xDomain: [-0.738, 6.199], yDomain: [3.769, 12.173], titleBase: 921.7, runWidth: 5.6,
  title: sizeTitle, xLabel: sizeXLabel, xTicks: sizeXTicks, xTickLabels: sizeXTickLabels,
  runs: sizeRuns, dots: expandCols(sizeCols).concat(sizeDots)});
</script>
</body>
</html>
